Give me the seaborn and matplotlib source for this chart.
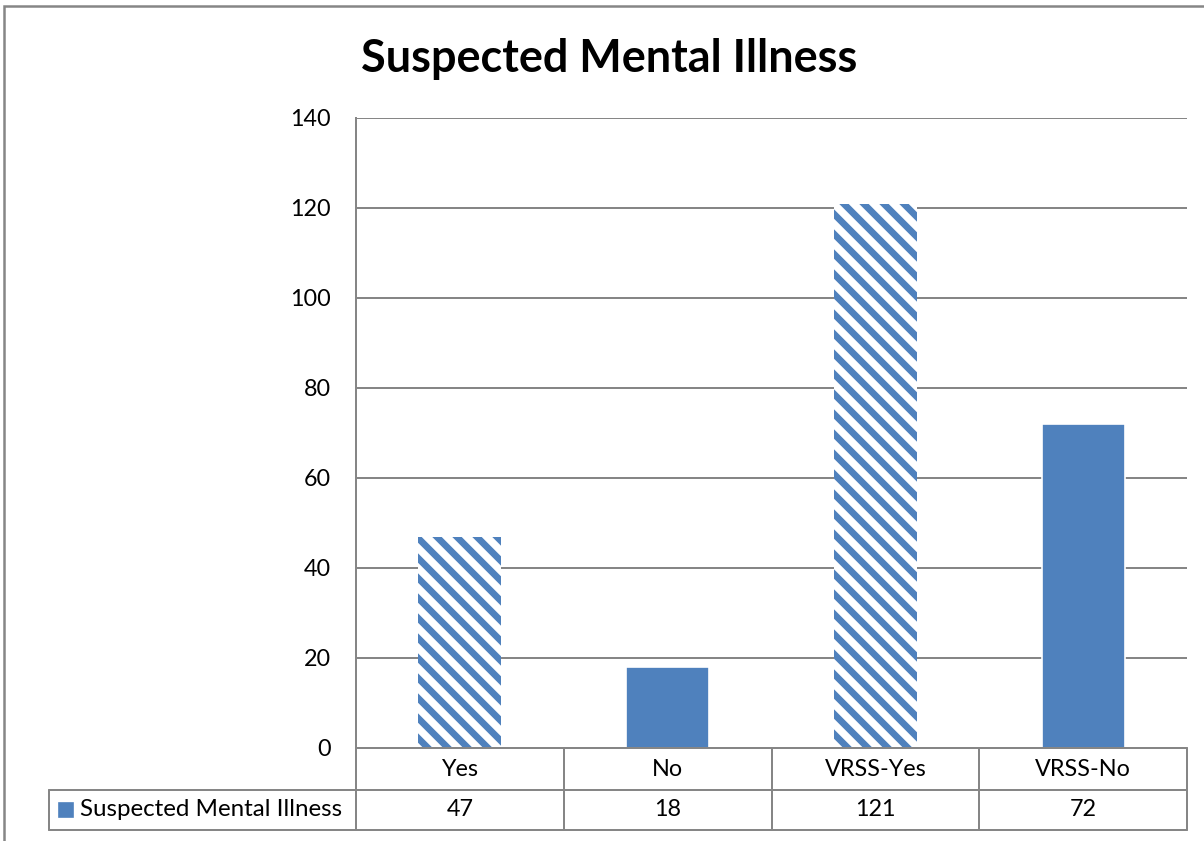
import numpy as np
import matplotlib
matplotlib.use("Agg")
import matplotlib.pyplot as plt
import matplotlib.transforms as mtransforms
from matplotlib.patches import Rectangle
import seaborn as sns

sns.set_style("white")
plt.rcParams["font.family"] = ["Lato", "DejaVu Sans"]
plt.rcParams["text.color"] = "black"
plt.rcParams["hatch.linewidth"] = 4.0

# Datos
categorias = ["Yes", "No", "VRSS-Yes", "VRSS-No"]
valores = [47, 18, 121, 72]
serie = "Suspected Mental Illness"
yticks = [0, 20, 40, 60, 80, 100, 120, 140]

azul = "#4F81BD"
gris = "#868686"
patrones = ["\\\\", "", "\\\\", ""]

fig = plt.figure(figsize=(1204 / 120, 841 / 120), dpi=120)
ax = fig.add_axes([356 / 1204, 1 - 748 / 841, (1187 - 356) / 1204, (748 - 118) / 841])

sns.barplot(x=categorias, y=valores, color=azul, width=0.4, saturation=1, ax=ax)
for barra, pat in zip(ax.patches, patrones):
    if pat:
        barra.set_facecolor("white")
        barra.set_edgecolor(azul)
        barra.set_hatch(pat)
        barra.set_linewidth(0)

ax.set_ylim(0, 140)
ax.set_xlim(-0.5, len(categorias) - 0.5)
ax.set_yticks(yticks)
ax.yaxis.grid(True, color=gris, linewidth=1.2)
ax.set_axisbelow(True)
ax.tick_params(axis="y", length=0, pad=15, labelsize=14, labelcolor="black")
ax.set_xticks([])
ax.set_xlabel("")
for lado in ["top", "right", "bottom"]:
    ax.spines[lado].set_visible(False)
ax.spines["left"].set_color(gris)
ax.spines["left"].set_linewidth(1.2)

# Tabla de datos
ancho_cat = (1187 - 356) / len(categorias)
tr = mtransforms.blended_transform_factory(ax.transData, ax.transAxes)
h1 = 42 / 630
h2 = 82 / 630
x_izq = -0.5 - (356 - 49) / ancho_cat
x_der = len(categorias) - 0.5
kw = dict(color=gris, linewidth=1.2, transform=tr, clip_on=False)
ax.plot([-0.5, x_der], [0, 0], **kw)
ax.plot([x_izq, x_der], [-h1, -h1], **kw)
ax.plot([x_izq, x_der], [-h2, -h2], **kw)
ax.plot([x_izq, x_izq], [-h1, -h2], **kw)
for i in range(len(categorias) + 1):
    ax.plot([i - 0.5, i - 0.5], [0, -h2], **kw)
for i, (c, v) in enumerate(zip(categorias, valores)):
    ax.text(i, -h1 / 2, c, ha="center", va="center", fontsize=14, transform=tr)
    ax.text(i, -(h1 + h2) / 2, str(v), ha="center", va="center", fontsize=14, transform=tr)
ax.plot([x_izq + 17.5 / ancho_cat], [-(h1 + h2) / 2], marker="s", markersize=8.4, color=azul,
        transform=tr, clip_on=False)
ax.text(x_izq + 31 / ancho_cat, -(h1 + h2) / 2, serie, ha="left", va="center", fontsize=14.5,
        transform=tr)

fig.text(0.506, 1 - 59 / 841, serie, ha="center", va="center", fontsize=27, fontweight="bold")

# Borde exterior
fig.add_artist(Rectangle((4 / 1204, -0.1), 1.2, 1 - 6 / 841 + 0.1, transform=fig.transFigure,
                         fill=False, edgecolor=gris, linewidth=1.5))

fig.savefig("out.png", dpi=120)
